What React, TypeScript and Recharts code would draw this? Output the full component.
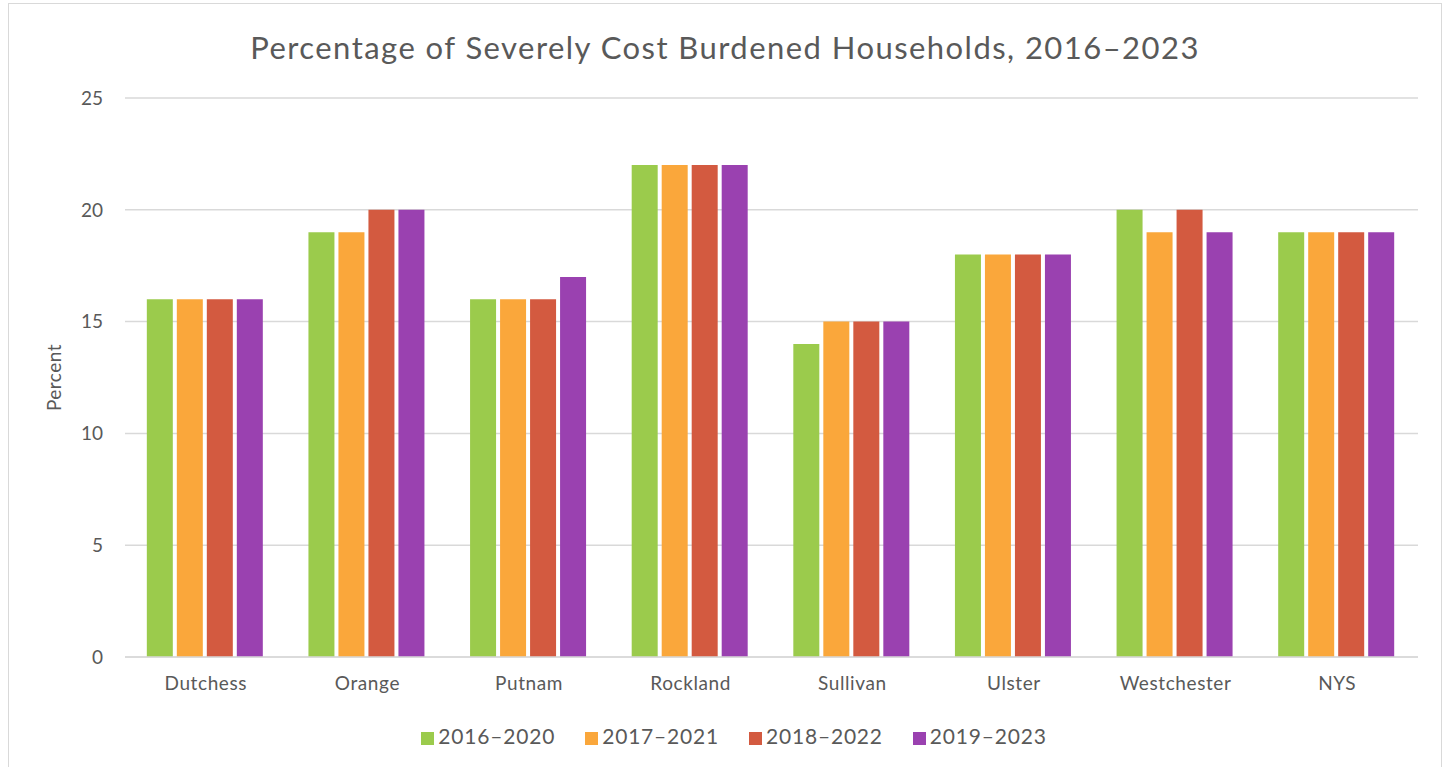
import { Bar, BarChart, CartesianGrid, Legend, XAxis, YAxis } from "recharts";

const regions = ["Dutchess", "Orange", "Putnam", "Rockland", "Sullivan", "Ulster", "Westchester", "NYS"];
const y2016_2020 = [16, 19, 16, 22, 14, 18, 20, 19];
const y2017_2021 = [16, 19, 16, 22, 15, 18, 19, 19];
const y2018_2022 = [16, 20, 16, 22, 15, 18, 20, 19];
const y2019_2023 = [16, 20, 17, 22, 15, 18, 19, 19];
const yTicks = [0, 5, 10, 15, 20, 25];

const series = [
  { key: "p1", name: "2016–2020", values: y2016_2020, color: "#9BCB4C" },
  { key: "p2", name: "2017–2021", values: y2017_2021, color: "#FAA73B" },
  { key: "p3", name: "2018–2022", values: y2018_2022, color: "#D35A40" },
  { key: "p4", name: "2019–2023", values: y2019_2023, color: "#9A41B0" },
];

const data = regions.map((name, i) => {
  const row: { [k: string]: string | number } = { name };
  series.forEach((s) => (row[s.key] = s.values[i]));
  return row;
});

const font = "Lato, 'Open Sans', sans-serif";
const gray = "#595959";

export default function App() {
  return (
    <div
      style={{
        position: "absolute",
        left: 8,
        top: 3,
        width: 1432,
        height: 780,
        border: "1px solid #d9d9d9",
        background: "#fff",
        fontFamily: font,
      }}
    >
      <div
        style={{
          position: "absolute",
          left: 0,
          width: 1432,
          top: 24,
          textAlign: "center",
          fontSize: 31,
          color: gray,
          letterSpacing: 1.45,
        }}
      >
        Percentage of Severely Cost Burdened Households, 2016–2023
      </div>
      <BarChart
        width={1432}
        height={762}
        data={data}
        margin={{ top: 94, right: 23, left: 0, bottom: 0 }}
        barCategoryGap="13.5%"
        barGap={4}
      >
        <CartesianGrid vertical={false} stroke="#d9d9d9" strokeWidth={1.5} />
        <XAxis
          dataKey="name"
          height={50}
          tickLine={false}
          axisLine={{ stroke: "#d9d9d9", strokeWidth: 1.5 }}
          tick={{ fill: gray, fontSize: 19, fontFamily: font, letterSpacing: 0.6 }}
          tickMargin={14}
        />
        <YAxis
          width={116}
          domain={[0, 25]}
          ticks={yTicks}
          tickLine={false}
          axisLine={false}
          tickSize={0}
          tickMargin={22}
          tick={{ fill: gray, fontSize: 19, fontFamily: font }}
          label={{
            value: "Percent",
            angle: -90,
            position: "insideLeft",
            dx: 40,
            style: { fill: gray, fontSize: 19, fontFamily: font, textAnchor: "middle", letterSpacing: 0.5 },
          }}
        />
        <Legend
          verticalAlign="bottom"
          height={43}
          iconType="square"
          iconSize={13}
          wrapperStyle={{ fontSize: 21, fontFamily: font, paddingTop: 16, left: 24, width: 1432 }}
          formatter={(v) => (
            <span style={{ color: gray, marginRight: 20, letterSpacing: 0.8 }}>{v}</span>
          )}
        />
        {series.map((s) => (
          <Bar key={s.key} dataKey={s.key} name={s.name} fill={s.color} isAnimationActive={false} />
        ))}
      </BarChart>
    </div>
  );
}
